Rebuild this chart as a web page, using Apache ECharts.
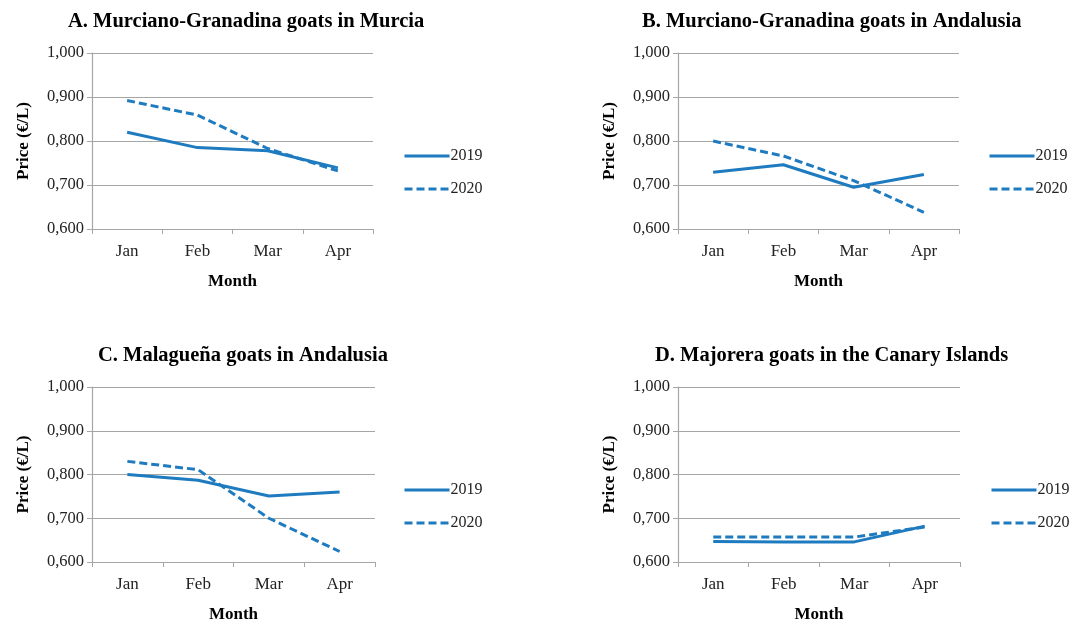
<!DOCTYPE html>
<html><head><meta charset="utf-8">
<script src="https://cdn.jsdelivr.net/npm/echarts@6/dist/echarts.min.js"></script>
<style>html,body{margin:0;padding:0;background:#fff}#c{width:1090px;height:627px}</style>
</head><body><div id="c"></div>
<script>
const months = ['Jan','Feb','Mar','Apr'];
const titles = ['A. Murciano-Granadina goats in Murcia','B. Murciano-Granadina goats in Andalusia','C. Malagueña goats in Andalusia','D. Majorera goats in the Canary Islands'];
const a2019 = [0.820,0.785,0.778,0.739];
const a2020 = [0.892,0.859,0.783,0.732];
const b2019 = [0.729,0.746,0.695,0.724];
const b2020 = [0.800,0.766,0.710,0.638];
const c2019 = [0.800,0.787,0.751,0.760];
const c2020 = [0.830,0.811,0.700,0.624];
const d2019 = [0.647,0.646,0.646,0.682];
const d2020 = [0.657,0.657,0.657,0.680];
const yTicks = ['0,600','0,700','0,800','0,900','1,000'];

const FONT = '"Liberation Serif", "DejaVu Serif", serif';
const BLUE = '#1f7bc0';
const panels = [
  {s:[a2019,a2020], grid:{left:92,right:717,top:53,bottom:398}, title:{left:63,top:6}, legend:{left:398,top:143}},
  {s:[b2019,b2020], grid:{left:678,right:131,top:53,bottom:398}, title:{left:637,top:6}, legend:{left:983,top:143}},
  {s:[c2019,c2020], grid:{left:92,right:715,top:387,bottom:65}, title:{left:93,top:340}, legend:{left:398,top:477}},
  {s:[d2019,d2020], grid:{left:678,right:130,top:387,bottom:65}, title:{left:650,top:340}, legend:{left:985,top:477}}
];
const option = {animation:false, title:[], grid:[], xAxis:[], yAxis:[], legend:[], series:[]};
panels.forEach((p,i)=>{
  option.title.push({text:titles[i], left:p.title.left, top:p.title.top,
    textStyle:{fontFamily:FONT, fontWeight:'bold', fontSize:20.5, color:'#000'}});
  option.grid.push(Object.assign({containLabel:false}, p.grid));
  option.xAxis.push({type:'category', gridIndex:i, data:months, boundaryGap:true,
    name:'Month', nameLocation:'middle', nameGap:44,
    nameTextStyle:{fontFamily:FONT, fontWeight:'bold', fontSize:17, color:'#000'},
    axisLine:{lineStyle:{color:'#a6a6a6', width:1.2}},
    axisTick:{show:true, length:5, lineStyle:{color:'#a6a6a6'}},
    axisLabel:{fontFamily:FONT, fontSize:17, color:'#222', margin:14}});
  option.yAxis.push({type:'value', gridIndex:i, min:0.6, max:1.0, interval:0.1,
    name:'Price (€/L)', nameLocation:'middle', nameGap:60,
    nameTextStyle:{fontFamily:FONT, fontWeight:'bold', fontSize:17, color:'#000'},
    axisLine:{show:true, lineStyle:{color:'#a6a6a6', width:1.2}},
    axisTick:{show:true, length:5, lineStyle:{color:'#a6a6a6'}},
    splitLine:{show:true, lineStyle:{color:'#a6a6a6', width:1.2}},
    axisLabel:{fontFamily:FONT, fontSize:16.5, color:'#222', margin:8,
      formatter:(v)=>yTicks[Math.round((v-0.6)*10)]}});
  option.legend.push({orient:'vertical', left:p.legend.left, top:p.legend.top,
    data:['2019','2020'], itemWidth:45, itemHeight:12, itemGap:17, selectedMode:false,
    itemStyle:{opacity:0}, lineStyle:{width:3},
    textStyle:{fontFamily:FONT, fontSize:16, color:'#222', padding:[0,0,0,-4]}});
  ['2019','2020'].forEach((nm,k)=>{
    option.series.push({type:'line', name:nm, xAxisIndex:i, yAxisIndex:i, data:p.s[k],
      symbol:'none', lineStyle:{color:BLUE, width:3, type:k? [8,4]:'solid'}, itemStyle:{color:BLUE}});
  });
});
const chart = echarts.init(document.getElementById('c'));
chart.setOption(option);
</script></body></html>
